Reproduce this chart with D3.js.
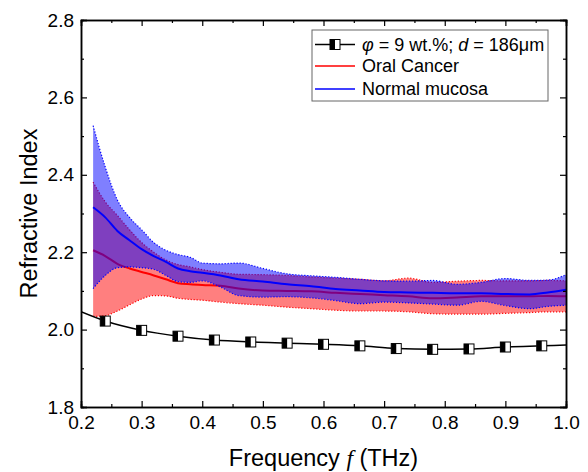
<!DOCTYPE html>
<html>
<head>
<meta charset="utf-8">
<script src="https://cdn.jsdelivr.net/npm/d3@7"></script>
<style>
  body { margin: 0; background: #fff; }
  svg { font-family: "Liberation Sans", Arial, sans-serif; }
</style>
</head>
<body>
<div id="chart"></div>
<script>
// frequency grid of the tissue bands (THz)
const bandFreq = [0.22, 0.24, 0.26, 0.28, 0.30, 0.32, 0.34, 0.36, 0.38, 0.40, 0.43, 0.46, 0.50,
                  0.54, 0.58, 0.62, 0.66, 0.70, 0.74, 0.78, 0.82, 0.86, 0.90, 0.94, 0.97, 1.0];

// normal mucosa: mean and spread
const normalMean = [2.316, 2.290, 2.255, 2.231, 2.208, 2.190, 2.175, 2.158, 2.151, 2.147, 2.140, 2.130, 2.124,
                    2.117, 2.112, 2.105, 2.101, 2.097, 2.096, 2.095, 2.094, 2.094, 2.092, 2.091, 2.096, 2.103];
const normalHi   = [2.527, 2.420, 2.335, 2.290, 2.258, 2.225, 2.205, 2.194, 2.187, 2.172, 2.170, 2.172, 2.158,
                    2.144, 2.139, 2.135, 2.130, 2.126, 2.125, 2.127, 2.117, 2.122, 2.132, 2.127, 2.128, 2.142];
const normalLo   = [2.106, 2.140, 2.160, 2.162, 2.160, 2.156, 2.140, 2.124, 2.122, 2.126, 2.110, 2.088, 2.084,
                    2.085, 2.082, 2.075, 2.067, 2.071, 2.069, 2.066, 2.063, 2.073, 2.062, 2.054, 2.060, 2.063];

// oral cancer: mean and spread
const cancerMean = [2.205, 2.190, 2.170, 2.158, 2.149, 2.140, 2.130, 2.120, 2.117, 2.115, 2.113, 2.106, 2.101,
                    2.100, 2.099, 2.095, 2.092, 2.089, 2.086, 2.081, 2.083, 2.086, 2.086, 2.086, 2.087, 2.086];
const cancerHi   = [2.381, 2.330, 2.295, 2.258, 2.225, 2.200, 2.180, 2.168, 2.162, 2.155, 2.148, 2.143, 2.142,
                    2.140, 2.136, 2.133, 2.130, 2.126, 2.133, 2.122, 2.125, 2.127, 2.126, 2.126, 2.127, 2.126];
const cancerLo   = [2.034, 2.036, 2.048, 2.064, 2.079, 2.088, 2.087, 2.081, 2.078, 2.076, 2.071, 2.067, 2.063,
                    2.058, 2.054, 2.050, 2.048, 2.048, 2.046, 2.041, 2.040, 2.040, 2.042, 2.044, 2.046, 2.046];

// phantom sample (first and last point have no marker)
const sampleFreq = [0.20, 0.24, 0.30, 0.36, 0.42, 0.48, 0.54, 0.60, 0.66, 0.72, 0.78, 0.84, 0.90, 0.96, 1.0];
const sampleN    = [2.046, 2.022, 1.998, 1.983, 1.973, 1.968, 1.965, 1.962, 1.958, 1.951, 1.949, 1.950, 1.955, 1.958, 1.960];

const xTicks = [0.2, 0.3, 0.4, 0.5, 0.6, 0.7, 0.8, 0.9, 1.0];
const yTicks = [1.8, 2.0, 2.2, 2.4, 2.6, 2.8];

const width = 588, height = 472;
const margin = {top: 20, right: 22, bottom: 65, left: 81};
const w = width - margin.left - margin.right,
      h = height - margin.top - margin.bottom;

const svg = d3.select("#chart").append("svg")
    .attr("width", width)
    .attr("height", height);

const chart = svg.append("g")
    .attr("transform", "translate(" + margin.left + "," + margin.top + ")");

const x = d3.scaleLinear().domain([0.2, 1.0]).range([0, w]);
const y = d3.scaleLinear().domain([1.8, 2.8]).range([h, 0]);

chart.append("clipPath").attr("id", "clip")
  .append("rect").attr("width", w).attr("height", h);

const plot = chart.append("g").attr("clip-path", "url(#clip)");

const curve = d3.curveMonotoneX;

function band(hi, lo) {
    return d3.area()
        .x((d, i) => x(bandFreq[i]))
        .y0((d, i) => y(lo[i]))
        .y1((d, i) => y(hi[i]))
        .curve(curve)(bandFreq);
}
function line(vals) {
    return d3.line()
        .x((d, i) => x(bandFreq[i]))
        .y((d, i) => y(vals[i]))
        .curve(curve)(bandFreq);
}

// oral cancer band
plot.append("path").attr("d", band(cancerHi, cancerLo))
    .attr("fill", "#ff0000").attr("fill-opacity", 0.5);
[cancerHi, cancerLo].forEach(v => {
    plot.append("path").attr("d", line(v))
        .attr("fill", "none").attr("stroke", "#ff0000")
        .attr("stroke-width", 1.2).attr("stroke-dasharray", "1.2,1.8");
});
plot.append("path").attr("d", line(cancerMean))
    .attr("fill", "none").attr("stroke", "#ff0000").attr("stroke-width", 2);

// normal mucosa band
plot.append("path").attr("d", band(normalHi, normalLo))
    .attr("fill", "#0000ff").attr("fill-opacity", 0.5);
[normalHi, normalLo].forEach(v => {
    plot.append("path").attr("d", line(v))
        .attr("fill", "none").attr("stroke", "#0000ff")
        .attr("stroke-width", 1.2).attr("stroke-dasharray", "1.2,1.8");
});
plot.append("path").attr("d", line(normalMean))
    .attr("fill", "none").attr("stroke", "#0000ff").attr("stroke-width", 2);

// phantom line + half filled squares
plot.append("path")
    .attr("d", d3.line()
        .x((d, i) => x(sampleFreq[i]))
        .y((d, i) => y(sampleN[i]))
        .curve(curve)(sampleFreq))
    .attr("fill", "none").attr("stroke", "#000").attr("stroke-width", 1.5);

function marker(g, cx, cy) {
    const s = 10;
    g.append("rect").attr("x", cx - s / 2).attr("y", cy - s / 2)
        .attr("width", s).attr("height", s).attr("fill", "#fff");
    g.append("rect").attr("x", cx - s / 2).attr("y", cy - s / 2)
        .attr("width", s / 2).attr("height", s).attr("fill", "#000");
    g.append("rect").attr("x", cx - s / 2).attr("y", cy - s / 2)
        .attr("width", s).attr("height", s)
        .attr("fill", "none").attr("stroke", "#000").attr("stroke-width", 1);
}
sampleFreq.forEach((f, i) => {
    if (i === 0 || i === sampleFreq.length - 1) return;
    marker(chart, x(f), y(sampleN[i]));
});

// axes, ticks inward on all four sides
const minorX = d3.range(0.25, 1.0, 0.1);
const minorY = d3.range(1.9, 2.8, 0.2);

chart.append("g").attr("class", "x axis")
    .attr("transform", "translate(0," + h + ")")
    .call(d3.axisBottom(x).tickValues(xTicks).tickSize(-6).tickPadding(9).tickFormat(d3.format(".1f")));
chart.append("g").attr("transform", "translate(0," + h + ")")
    .call(d3.axisBottom(x).tickValues(minorX).tickSize(-3).tickFormat(""));
chart.append("g")
    .call(d3.axisTop(x).tickValues(xTicks).tickSize(-6).tickFormat(""));
chart.append("g")
    .call(d3.axisTop(x).tickValues(minorX).tickSize(-3).tickFormat(""));

chart.append("g").attr("class", "y axis")
    .call(d3.axisLeft(y).tickValues(yTicks).tickSize(-6).tickPadding(7).tickFormat(d3.format(".1f")));
chart.append("g")
    .call(d3.axisLeft(y).tickValues(minorY).tickSize(-3).tickFormat(""));
chart.append("g").attr("transform", "translate(" + w + ",0)")
    .call(d3.axisRight(y).tickValues(yTicks).tickSize(-6).tickFormat(""));
chart.append("g").attr("transform", "translate(" + w + ",0)")
    .call(d3.axisRight(y).tickValues(minorY).tickSize(-3).tickFormat(""));

chart.selectAll(".domain").attr("stroke", "#000").attr("stroke-width", 1.5);
chart.selectAll(".tick line").attr("stroke", "#000").attr("stroke-width", 1.2);
chart.selectAll(".tick text")
    .style("font-family", "'Liberation Sans', Arial, sans-serif")
    .style("font-size", "19px").attr("fill", "#000");

// axis titles
svg.append("text")
    .attr("transform", "translate(37," + (margin.top + h / 2) + ") rotate(-90)")
    .attr("text-anchor", "middle")
    .style("font-size", "23.5px")
    .text("Refractive Index");

const xt = svg.append("text")
    .attr("x", margin.left + w / 2)
    .attr("y", 466)
    .attr("text-anchor", "middle")
    .style("font-size", "23.5px");
xt.append("tspan").text("Frequency ");
xt.append("tspan").style("font-family", "'Liberation Serif', 'Times New Roman', serif")
    .style("font-style", "italic").text("f");
xt.append("tspan").text(" (THz)");

// legend
const lg = svg.append("g").attr("transform", "translate(312,30)");
lg.append("rect").attr("width", 236).attr("height", 71)
    .attr("fill", "#fff").attr("stroke", "#666").attr("stroke-width", 1);

const rows = [14.5, 36, 59];
lg.append("line").attr("x1", 3).attr("x2", 43).attr("y1", rows[0]).attr("y2", rows[0])
    .attr("stroke", "#000").attr("stroke-width", 1.5);
marker(lg, 23, rows[0]);
lg.append("line").attr("x1", 3).attr("x2", 43).attr("y1", rows[1]).attr("y2", rows[1])
    .attr("stroke", "#ff0000").attr("stroke-width", 1.5);
lg.append("line").attr("x1", 3).attr("x2", 43).attr("y1", rows[2]).attr("y2", rows[2])
    .attr("stroke", "#0000ff").attr("stroke-width", 1.5);

const t0 = lg.append("text").attr("x", 50).attr("y", rows[0]).attr("dy", "0.36em")
    .style("font-size", "18px");
t0.append("tspan").style("font-style", "italic").text("φ");
t0.append("tspan").text(" = 9 wt.%; ");
t0.append("tspan").style("font-style", "italic").text("d");
t0.append("tspan").text(" = 186μm");
lg.append("text").attr("x", 50).attr("y", rows[1]).attr("dy", "0.36em")
    .style("font-size", "18px").text("Oral Cancer");
lg.append("text").attr("x", 50).attr("y", rows[2]).attr("dy", "0.36em")
    .style("font-size", "18px").text("Normal mucosa");
</script>
</body>
</html>
